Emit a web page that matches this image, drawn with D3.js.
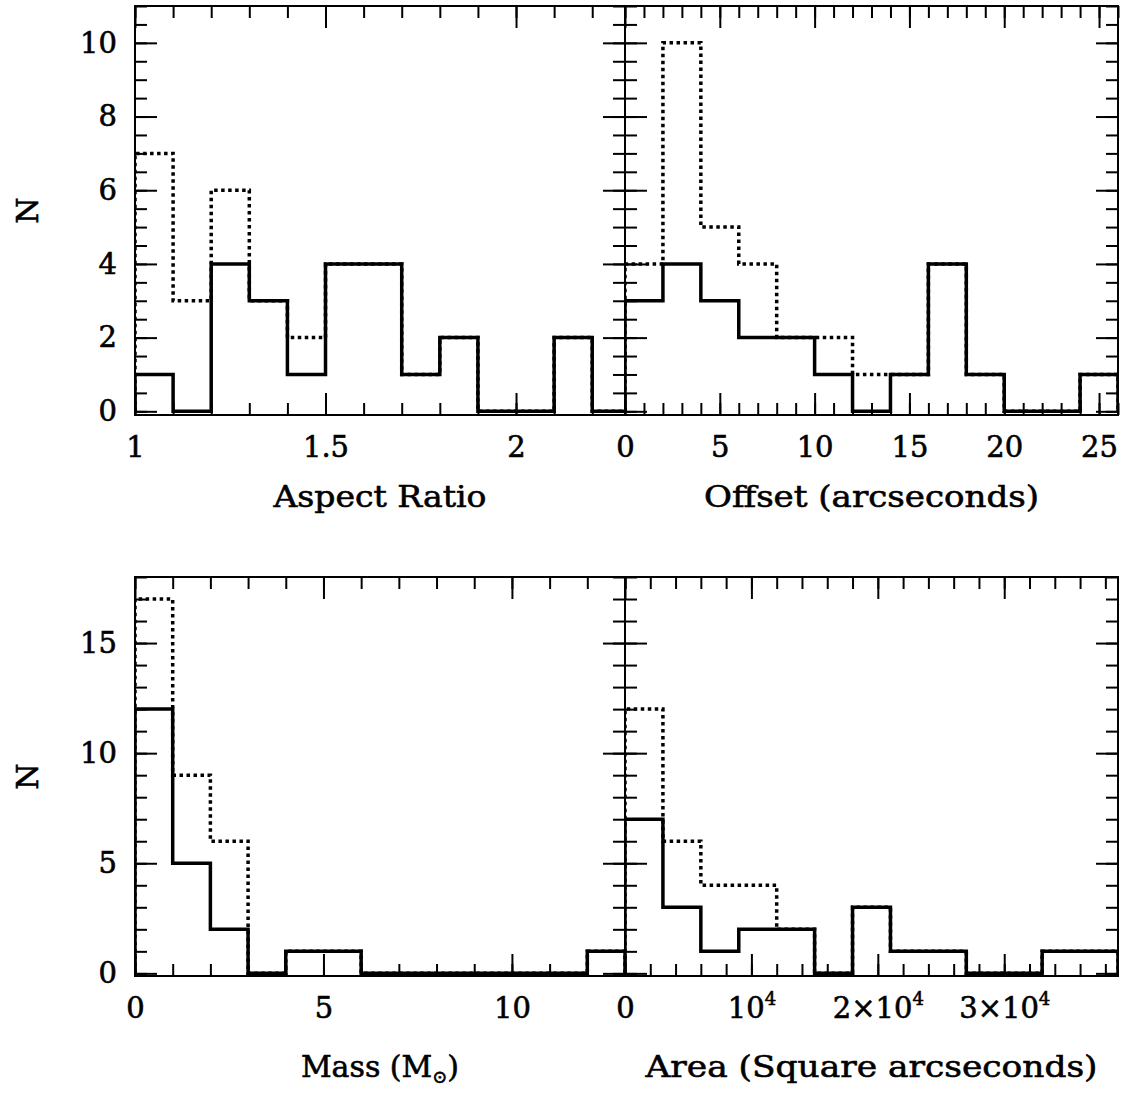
<!DOCTYPE html>
<html>
<head>
<meta charset="utf-8">
<script src="https://cdn.jsdelivr.net/npm/d3@7"></script>
<style>
body { margin: 0; background: #fff; }
svg text { font-family: "DejaVu Serif", serif; fill: #000; stroke: #000; stroke-width: 0.6px; }
</style>
</head>
<body>
<div id="chart"></div>
<script>
// bin counts: dotted = whole sample, solid = subsample
var aspectStart = 1, aspectStep = 0.1;
var aspectAll   = [7, 3, 6, 3, 2, 4, 4, 1, 2, 0, 0, 2, 0];
var aspectSolid = [1, 0, 4, 3, 1, 4, 4, 1, 2, 0, 0, 2, 0];

var offsetStart = 0, offsetStep = 2;
var offsetAll   = [4, 10, 5, 4, 2, 2, 1, 1, 4, 1, 0, 0, 1];
var offsetSolid = [3, 4, 3, 2, 2, 1, 0, 1, 4, 1, 0, 0, 1];

var massStart = 0, massStep = 1;
var massAll   = [17, 9, 6, 0, 1, 1, 0, 0, 0, 0, 0, 0, 1];
var massSolid = [12, 5, 2, 0, 1, 1, 0, 0, 0, 0, 0, 0, 1];

var areaStart = 0, areaStep = 3000;
var areaAll   = [12, 6, 4, 4, 2, 0, 3, 1, 1, 0, 0, 1, 1];
var areaSolid = [7, 3, 1, 2, 2, 0, 3, 1, 1, 0, 0, 1, 1];

// tick values / labels
var aspectTicks = [1, 1.5, 2];
var offsetTicks = [0, 5, 10, 15, 20, 25];
var massTicks = [0, 5, 10];
var areaTicks = [0, 10000, 20000, 30000];
var areaTickLabels = [["0", ""], ["10", "4"], ["2×10", "4"], ["3×10", "4"]];
var nTicksTop = [0, 2, 4, 6, 8, 10];
var nTicksBottom = [0, 5, 10, 15];

var W = 1123, H = 1096;

var svg = d3.select("#chart").append("svg")
    .attr("width", W)
    .attr("height", H);

var panels = [
    {id: "p1", x0: 135, x1: 625, y0: 6, y1: 415, xDomain: [1, 2.286], yDomain: [-0.1, 11],
     start: aspectStart, step: aspectStep, all: aspectAll, solid: aspectSolid,
     xMajor: aspectTicks, xMinor: d3.range(1, 2.29, 0.1),
     yMajor: nTicksTop, yMinor: d3.range(0, 11.01, 0.5), yLabels: true,
     xLabel: "Aspect Ratio", labelY: 507},
    {id: "p2", x0: 625, x1: 1118, y0: 6, y1: 415, xDomain: [0, 26], yDomain: [-0.1, 11],
     start: offsetStart, step: offsetStep, all: offsetAll, solid: offsetSolid,
     xMajor: offsetTicks, xMinor: d3.range(0, 26.01, 1),
     yMajor: nTicksTop, yMinor: d3.range(0, 11.01, 0.5), yLabels: false,
     xLabel: "Offset (arcseconds)", labelY: 507},
    {id: "p3", x0: 135, x1: 625, y0: 577, y1: 976, xDomain: [0, 13], yDomain: [-0.12, 18],
     start: massStart, step: massStep, all: massAll, solid: massSolid,
     xMajor: massTicks, xMinor: d3.range(0, 13.01, 1),
     yMajor: nTicksBottom, yMinor: d3.range(0, 18.01, 1), yLabels: true,
     xLabel: null, labelY: 1077},
    {id: "p4", x0: 625, x1: 1118, y0: 577, y1: 976, xDomain: [0, 39000], yDomain: [-0.12, 18],
     start: areaStart, step: areaStep, all: areaAll, solid: areaSolid,
     xMajor: areaTicks, xMinor: d3.range(0, 39001, 2000),
     yMajor: nTicksBottom, yMinor: d3.range(0, 18.01, 1), yLabels: false,
     xLabel: "Area (Square arcseconds)", labelY: 1077}
];

var MAJOR = 22, MINOR = 12;

panels.forEach(function(p) {
    var x = d3.scaleLinear().domain(p.xDomain).range([p.x0, p.x1]);
    var y = d3.scaleLinear().domain(p.yDomain).range([p.y1, p.y0]);

    svg.append("clipPath").attr("id", "clip-" + p.id)
        .append("rect")
        .attr("x", p.x0).attr("y", p.y0)
        .attr("width", p.x1 - p.x0).attr("height", p.y1 - p.y0);

    var line = d3.line()
        .x(function(d) { return x(d[0]); })
        .y(function(d) { return y(d[1]); })
        .curve(d3.curveStepAfter);

    function steps(vals) {
        var pts = [[p.start, 0]];
        vals.forEach(function(v, i) { pts.push([p.start + i * p.step, v]); });
        var end = p.start + vals.length * p.step;
        pts.push([end, vals[vals.length - 1]]);
        pts.push([end, 0]);
        return pts;
    }

    var g = svg.append("g").attr("clip-path", "url(#clip-" + p.id + ")");

    g.append("path")
        .attr("d", line(steps(p.all)))
        .attr("fill", "none")
        .attr("stroke", "#000")
        .attr("stroke-width", 3.5)
        .attr("stroke-dasharray", "3.5,3.5");

    g.append("path")
        .attr("d", line(steps(p.solid)))
        .attr("fill", "none")
        .attr("stroke", "#000")
        .attr("stroke-width", 3.5);

    // ticks on all four sides, pointing inwards
    function addAxis(axis, tx, ty) {
        var a = svg.append("g")
            .attr("transform", "translate(" + tx + "," + ty + ")")
            .call(axis);
        a.select(".domain").remove();
        a.selectAll("line").attr("stroke-width", 2);
        a.selectAll("text")
            .attr("font-family", "DejaVu Serif")
            .attr("font-size", 29);
        return a;
    }

    var bottom = addAxis(d3.axisBottom(x).tickValues(p.xMajor).tickSize(-MAJOR).tickPadding(21)
        .tickFormat(d3.format("")), 0, p.y1);
    addAxis(d3.axisBottom(x).tickValues(p.xMinor).tickSize(-MINOR).tickFormat(""), 0, p.y1);
    addAxis(d3.axisTop(x).tickValues(p.xMajor).tickSize(-MAJOR).tickFormat(""), 0, p.y0);
    addAxis(d3.axisTop(x).tickValues(p.xMinor).tickSize(-MINOR).tickFormat(""), 0, p.y0);

    addAxis(d3.axisLeft(y).tickValues(p.yMajor).tickSize(-MAJOR).tickPadding(18)
        .tickFormat(p.yLabels ? d3.format("") : ""), p.x0, 0);
    addAxis(d3.axisLeft(y).tickValues(p.yMinor).tickSize(-MINOR).tickFormat(""), p.x0, 0);
    addAxis(d3.axisRight(y).tickValues(p.yMajor).tickSize(-MAJOR).tickFormat(""), p.x1, 0);
    addAxis(d3.axisRight(y).tickValues(p.yMinor).tickSize(-MINOR).tickFormat(""), p.x1, 0);

    if (p.id === "p4") {
        bottom.selectAll("text").each(function(d, i) {
            var t = d3.select(this).text(null);
            t.append("tspan").text(areaTickLabels[i][0]);
            if (areaTickLabels[i][1]) {
                t.append("tspan").attr("font-size", 18).attr("dy", "-0.7em").text(areaTickLabels[i][1]);
            }
        });
    }

    svg.append("rect")
        .attr("x", p.x0).attr("y", p.y0)
        .attr("width", p.x1 - p.x0).attr("height", p.y1 - p.y0)
        .attr("fill", "none")
        .attr("stroke", "#000")
        .attr("stroke-width", 2);

    var cx = (p.x0 + p.x1) / 2;
    if (p.xLabel) {
        svg.append("text")
            .attr("x", cx).attr("y", p.labelY)
            .attr("text-anchor", "middle")
            .attr("font-size", 30)
            .attr("textLength", p.id === "p1" ? 213 : (p.id === "p2" ? 335 : 452))
            .attr("lengthAdjust", "spacingAndGlyphs")
            .text(p.xLabel);
    } else {
        var m = svg.append("text")
            .attr("x", cx).attr("y", p.labelY)
            .attr("text-anchor", "middle")
            .attr("font-size", 30);
        m.append("tspan").text("Mass (M");
        m.append("tspan").attr("font-size", 18).attr("dy", "0.35em").text("⊙");
        m.append("tspan").attr("dy", "-0.2em").text(")");
    }

    if (p.yLabels) {
        var cy = (p.y0 + p.y1) / 2;
        svg.append("text")
            .attr("transform", "translate(27," + cy + ") rotate(-90)")
            .attr("text-anchor", "middle")
            .attr("dy", "0.35em")
            .attr("font-size", 30)
            .text("N");
    }
});
</script>
</body>
</html>
